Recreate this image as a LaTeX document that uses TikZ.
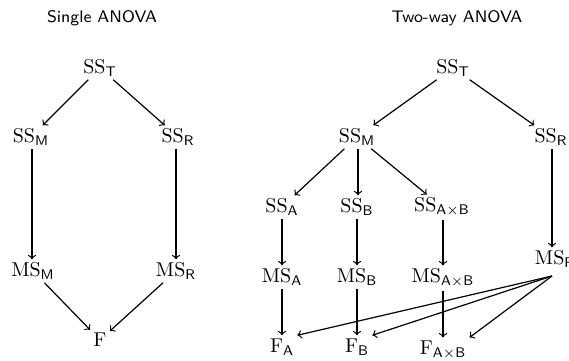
\documentclass[tikz,border=0pt]{standalone}
\begin{document}
\begin{tikzpicture}[x=0.5pt,y=-0.5pt,
  v/.style={inner sep=1.5pt, font=\fontsize{10}{12}\selectfont},
  ttl/.style={font=\fontsize{8.4}{10}\sffamily\selectfont},
  ar/.style={->, line width=0.6pt}]
\useasboundingbox (0,0) rectangle (569,360);
% Single ANOVA
\node[ttl] (t1) at (102,18) {Single ANOVA};
\node[v] (sst) at (100,68) {$\mathrm{SS}_{\mathsf{T}}$};
\node[v] (ssm) at (31,137) {$\mathrm{SS}_{\mathsf{M}}$};
\node[v] (ssr) at (178,137) {$\mathrm{SS}_{\mathsf{R}}$};
\node[v] (msm) at (33,271) {$\mathrm{MS}_{\mathsf{M}}$};
\node[v] (msr) at (176,271) {$\mathrm{MS}_{\mathsf{R}}$};
\node[v] (f) at (100,340) {$\mathrm{F}$};
\draw[ar] (sst) -- (ssm);
\draw[ar] (sst) -- (ssr);
\draw[ar] (ssm.south -| 32,0) -- (msm.north -| 32,0);
\draw[ar] (ssr.south -| 176,0) -- (msr.north -| 176,0);
\draw[ar] (msm) -- (f);
\draw[ar] (msr) -- (f);
% Two-way ANOVA
\node[ttl] (t2) at (457,18) {Two-way ANOVA};
\node[v] (sst2) at (453,68) {$\mathrm{SS}_{\mathsf{T}}$};
\node[v] (ssm2) at (357,137) {$\mathrm{SS}_{\mathsf{M}}$};
\node[v] (ssr2) at (551,137) {$\mathrm{SS}_{\mathsf{R}}$};
\node[v] (ssa) at (282,207) {$\mathrm{SS}_{\mathsf{A}}$};
\node[v] (ssb) at (357,207) {$\mathrm{SS}_{\mathsf{B}}$};
\node[v] (ssab) at (442,207) {$\mathrm{SS}_{\mathsf{A\times B}}$};
\node[v] (msa) at (282,277) {$\mathrm{MS}_{\mathsf{A}}$};
\node[v] (msb) at (357,277) {$\mathrm{MS}_{\mathsf{B}}$};
\node[v] (msab) at (443,278) {$\mathrm{MS}_{\mathsf{A\times B}}$};
\node[v] (msr2) at (555,259) {$\mathrm{MS}_{\mathsf{R}}$};
\node[v] (fa) at (282,347) {$\mathrm{F}_{\mathsf{A}}$};
\node[v] (fb) at (357,347) {$\mathrm{F}_{\mathsf{B}}$};
\node[v] (fab) at (443,350) {$\mathrm{F}_{\mathsf{A\times B}}$};
\draw[ar] (sst2) -- (ssm2);
\draw[ar] (sst2) -- (ssr2);
\draw[ar] (ssm2) -- (ssa);
\draw[ar] (ssm2.south -| 358,0) -- (ssb.north -| 358,0);
\draw[ar] (ssm2) -- (ssab);
\draw[ar] (ssr2.south -| 552,0) -- (msr2.north -| 552,0);
\draw[ar] (ssa.south -| 282,0) -- (msa.north -| 282,0);
\draw[ar] (ssb.south -| 357,0) -- (msb.north -| 357,0);
\draw[ar] (ssab.south -| 443,0) -- (msab.north -| 443,0);
\draw[ar] (msa.south -| 282,0) -- (fa.north -| 282,0);
\draw[ar] (msb.south -| 357,0) -- (fb.north -| 357,0);
\draw[ar] (msab.south -| 443,0) -- (fab.north -| 443,0);
\coordinate (mrs) at (552,276);
\draw[ar] (mrs) -- (fa.north east);
\draw[ar] (mrs) -- (fb.north east);
\draw[ar] (mrs) -- (fab.north east);
\end{tikzpicture}
\end{document}
